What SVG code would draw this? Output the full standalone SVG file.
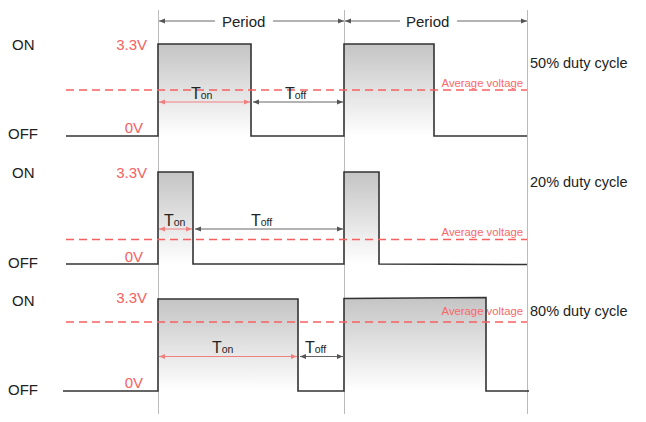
<svg xmlns="http://www.w3.org/2000/svg" width="646" height="422" viewBox="0 0 646 422">
<defs>
<linearGradient id="g" x1="0" y1="0" x2="0" y2="1">
<stop offset="0" stop-color="#c4c4c4"/>
<stop offset="1" stop-color="#ffffff"/>
</linearGradient>
<marker id="ag" viewBox="0 0 6 6" refX="6" refY="3" markerWidth="6" markerHeight="6" markerUnits="userSpaceOnUse" orient="auto-start-reverse">
<path d="M0,0.5 L6,3 L0,5.5 z" fill="#555"/>
</marker>
<marker id="ar" viewBox="0 0 6 6" refX="6" refY="3" markerWidth="6" markerHeight="6" markerUnits="userSpaceOnUse" orient="auto-start-reverse">
<path d="M0,0.5 L6,3 L0,5.5 z" fill="#f08080"/>
</marker>
<style>
text{font-family:"Liberation Sans",Arial,sans-serif}
.lbl{font-size:15px;fill:#222}
.v{font-size:15px;fill:#f86060;text-anchor:end}
.duty{font-size:14.5px;fill:#222}
.avg{font-size:11.3px;fill:#f86868;text-anchor:end}
.per{font-size:15px;fill:#222}
.t{font-size:16px;fill:#222}
.sub{font-size:10.5px}
.grid{stroke:#bbb;stroke-width:1}
.sig{fill:none;stroke:#333;stroke-width:1.6}
.pulse{fill:url(#g)}
.dash{stroke:#f86060;stroke-width:1.3;stroke-dasharray:8 5}
.ga{stroke:#666;stroke-width:1;marker-start:url(#ag);marker-end:url(#ag)}
.ra{stroke:#f08080;stroke-width:1;marker-start:url(#ar);marker-end:url(#ar)}
.pl{stroke:#666;stroke-width:1}
</style>
</defs>
<rect width="646" height="422" fill="#fff"/>

<g id="grid">
<line class="grid" x1="158.5" y1="10" x2="158.5" y2="414"/>
<line class="grid" x1="344.5" y1="10" x2="344.5" y2="414"/>
<line class="grid" x1="527.5" y1="10" x2="527.5" y2="414"/>
</g>

<g id="period">
<line class="pl" x1="159" y1="21" x2="215" y2="21" marker-start="url(#ag)"/>
<line class="pl" x1="273" y1="21" x2="344" y2="21" marker-end="url(#ag)"/>
<text class="per" x="222" y="26.5">Period</text>
<line class="pl" x1="345" y1="21" x2="400" y2="21" marker-start="url(#ag)"/>
<line class="pl" x1="457" y1="21" x2="527" y2="21" marker-end="url(#ag)"/>
<text class="per" x="406" y="26.5">Period</text>
</g>

<g id="row1">
<rect class="pulse" x="158" y="44" width="93" height="92"/>
<rect class="pulse" x="344" y="44" width="90" height="92"/>
<polyline class="sig" points="66,136 158,136 158,44 251,44 251,136 344,136 344,44 434,44 434,136 527,136"/>
<line class="dash" x1="66" y1="90" x2="527" y2="90"/>
<text class="lbl" x="12" y="50">ON</text>
<text class="lbl" x="8" y="139">OFF</text>
<text class="v" x="147" y="50">3.3V</text>
<text class="v" x="143" y="133">0V</text>
<text class="avg" x="523" y="87">Average voltage</text>
<text class="duty" x="530" y="68">50% duty cycle</text>
<line class="ra" x1="159" y1="102" x2="250" y2="102"/>
<line class="ga" x1="253" y1="102" x2="343" y2="102"/>
<text class="t" x="191" y="98.5">T<tspan class="sub">on</tspan></text>
<text class="t" x="285" y="98.5">T<tspan class="sub">off</tspan></text>
</g>

<g id="row2">
<rect class="pulse" x="158" y="172" width="35" height="92"/>
<rect class="pulse" x="344" y="172" width="35" height="92"/>
<polyline class="sig" points="66,264 158,264 158,172 193,172 193,264 344,264 344,172 379,172 379,264 527,264.5"/>
<line class="dash" x1="66" y1="239.5" x2="527" y2="239.5"/>
<text class="lbl" x="12" y="178">ON</text>
<text class="lbl" x="8" y="268">OFF</text>
<text class="v" x="147" y="178">3.3V</text>
<text class="v" x="143" y="262">0V</text>
<text class="avg" x="523" y="236">Average voltage</text>
<text class="duty" x="530" y="187">20% duty cycle</text>
<line class="ra" x1="159" y1="229" x2="192" y2="229"/>
<line class="ga" x1="195" y1="229" x2="343" y2="229"/>
<text class="t" x="164" y="226">T<tspan class="sub">on</tspan></text>
<text class="t" x="251" y="226">T<tspan class="sub">off</tspan></text>
</g>

<g id="row3">
<rect class="pulse" x="158" y="299" width="140" height="92"/>
<polygon class="pulse" points="344,298.5 486,297.5 486,391 344,391"/>
<polyline class="sig" points="63,391 158,391 158,299 298,299 298,391 344,391 344,298.5 486,297.5 486,391 529,391"/>
<line class="dash" x1="66" y1="322" x2="527" y2="322"/>
<text class="lbl" x="12" y="306">ON</text>
<text class="lbl" x="8" y="395">OFF</text>
<text class="v" x="147" y="303">3.3V</text>
<text class="v" x="143" y="388">0V</text>
<text class="avg" x="523" y="315">Average voltage</text>
<text class="duty" x="530" y="316">80% duty cycle</text>
<line class="ra" x1="159" y1="356.5" x2="297" y2="356.5"/>
<line class="ga" x1="300" y1="356.5" x2="343" y2="356.5"/>
<text class="t" x="212" y="352.5">T<tspan class="sub">on</tspan></text>
<text class="t" x="305" y="352.5">T<tspan class="sub">off</tspan></text>
</g>
</svg>
